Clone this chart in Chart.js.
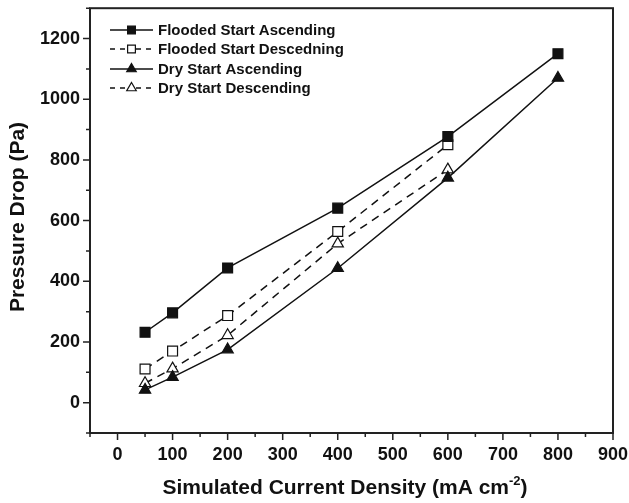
<!DOCTYPE html>
<html>
<head>
<meta charset="utf-8">
<script src="https://cdn.jsdelivr.net/npm/chart.js@4.4.1/dist/chart.umd.min.js"></script>
<style>
  html, body { margin: 0; padding: 0; background: #fff; }
  #wrap { width: 629px; height: 503px; position: relative; }
</style>
</head>
<body>
<div id="wrap"><canvas id="c" width="629" height="503"></canvas></div>
<script>
// ---- data ----
const xAscending = [50, 100, 200, 400, 600, 800];
const xDescending = [50, 100, 200, 400, 600];
const floodedAscending = [232, 296, 444, 641, 877, 1150];
const floodedDescending = [111, 170, 287, 564, 850];
const dryAscending = [42, 84, 175, 443, 741, 1070];
const dryDescending = [64, 112, 222, 524, 768];
const seriesNames = ['Flooded Start Ascending', 'Flooded Start Descedning', 'Dry Start Ascending', 'Dry Start Descending'];
const xTitle = 'Simulated Current Density (mA cm';
const xTitleSup = '-2';
const yTitle = 'Pressure Drop (Pa)';

const FONT = '"Liberation Sans", Arial, sans-serif';
const INK = '#111';

function pts(xs, ys) { return xs.map((x, i) => ({ x: x, y: ys[i] })); }

const styles = [
  { style: 'rect', fill: INK, dash: [] },
  { style: 'rect', fill: '#fff', dash: [8, 6] },
  { style: 'triangle', fill: INK, dash: [] },
  { style: 'triangle', fill: '#fff', dash: [8, 6] }
];
const dataSets = [pts(xAscending, floodedAscending), pts(xDescending, floodedDescending),
                  pts(xAscending, dryAscending), pts(xDescending, dryDescending)];

const datasets = dataSets.map((d, i) => ({
  label: seriesNames[i],
  data: d,
  showLine: true,
  borderColor: INK,
  borderWidth: 1.5,
  borderDash: styles[i].dash,
  pointStyle: styles[i].style,
  pointRadius: styles[i].style === 'rect' ? 7 : 6.5,
  pointBackgroundColor: styles[i].fill,
  pointBorderColor: INK,
  pointBorderWidth: 1.2,
  clip: false
}));

function drawMarker(ctx, style, fill, x, y, r) {
  ctx.save();
  ctx.beginPath();
  if (style === 'rect') {
    const s = r * Math.SQRT1_2;
    ctx.rect(x - s, y - s, 2 * s, 2 * s);
  } else {
    let rad = 0;
    ctx.moveTo(x + Math.sin(rad) * r, y - Math.cos(rad) * r);
    rad += 2 * Math.PI / 3;
    ctx.lineTo(x + Math.sin(rad) * r, y - Math.cos(rad) * r);
    rad += 2 * Math.PI / 3;
    ctx.lineTo(x + Math.sin(rad) * r, y - Math.cos(rad) * r);
    ctx.closePath();
  }
  ctx.fillStyle = fill;
  ctx.fill();
  ctx.setLineDash([]);
  ctx.lineWidth = 1.2;
  ctx.strokeStyle = INK;
  ctx.stroke();
  ctx.restore();
}

const decor = {
  id: 'decor',
  afterDraw(chart) {
    const ctx = chart.ctx;
    const a = chart.chartArea;
    const xs = chart.scales.x, ys = chart.scales.y;
    ctx.save();
    // frame
    ctx.strokeStyle = '#222';
    ctx.lineWidth = 2;
    ctx.setLineDash([]);
    ctx.strokeRect(a.left, a.top, a.right - a.left, a.bottom - a.top);
    // ticks
    ctx.lineWidth = 1.5;
    ctx.beginPath();
    xs.ticks.forEach(t => {
      const px = xs.getPixelForValue(t.value);
      const len = (t.value % 100 === 0) ? 7 : 4;
      ctx.moveTo(px, a.bottom);
      ctx.lineTo(px, a.bottom + len);
    });
    ys.ticks.forEach(t => {
      const py = ys.getPixelForValue(t.value);
      const len = (t.value % 200 === 0) ? 7 : 4;
      ctx.moveTo(a.left, py);
      ctx.lineTo(a.left - len, py);
    });
    ctx.stroke();

    // x title with superscript
    ctx.fillStyle = INK;
    ctx.textBaseline = 'alphabetic';
    ctx.textAlign = 'left';
    const mainFont = 'bold 21px ' + FONT;
    const supFont = 'bold 13px ' + FONT;
    ctx.font = mainFont;
    const w1 = ctx.measureText(xTitle).width;
    const w3 = ctx.measureText(')').width;
    ctx.font = supFont;
    const w2 = ctx.measureText(xTitleSup).width;
    const total = w1 + w2 + w3;
    let sx = 345 - total / 2;
    const base = 494;
    ctx.font = mainFont;
    ctx.fillText(xTitle, sx, base);
    ctx.font = supFont;
    ctx.fillText(xTitleSup, sx + w1, base - 9);
    ctx.font = mainFont;
    ctx.fillText(')', sx + w1 + w2, base);

    // y title
    ctx.save();
    ctx.translate(24, 217);
    ctx.rotate(-Math.PI / 2);
    ctx.textAlign = 'center';
    ctx.textBaseline = 'alphabetic';
    ctx.font = mainFont;
    ctx.fillText(yTitle, 0, 0);
    ctx.restore();

    // legend
    const rows = [30, 49, 69, 88];
    ctx.font = 'bold 15px ' + FONT;
    ctx.textBaseline = 'middle';
    ctx.textAlign = 'left';
    rows.forEach((ry, i) => {
      const st = styles[i];
      ctx.save();
      ctx.strokeStyle = INK;
      ctx.lineWidth = 1.5;
      if (st.dash.length) {
        ctx.setLineDash([5, 5]);
        ctx.beginPath();
        ctx.moveTo(110, ry); ctx.lineTo(127, ry);
        ctx.moveTo(136, ry); ctx.lineTo(153, ry);
        ctx.stroke();
      } else {
        ctx.beginPath();
        ctx.moveTo(110, ry); ctx.lineTo(153, ry);
        ctx.stroke();
      }
      ctx.restore();
      drawMarker(ctx, st.style, st.fill, 131.5, ry, 5.5);
      ctx.fillStyle = INK;
      ctx.fillText(seriesNames[i], 158, ry + 1);
    });
    ctx.restore();
  }
};

function zeroPad(s) {
  s.paddingTop = 0; s.paddingBottom = 0; s.paddingLeft = 0; s.paddingRight = 0;
}

new Chart(document.getElementById('c'), {
  type: 'scatter',
  data: { datasets: datasets },
  options: {
    responsive: false,
    animation: false,
    devicePixelRatio: 1,
    layout: { padding: { top: 7, right: 16, left: 0, bottom: 0 } },
    plugins: { legend: { display: false }, tooltip: { enabled: false } },
    scales: {
      x: {
        type: 'linear', min: -50, max: 900,
        border: { display: false },
        grid: { display: false, drawTicks: false },
        ticks: {
          stepSize: 50, autoSkip: false, maxRotation: 0, padding: 11,
          color: INK, font: { family: FONT, size: 18, weight: 'bold' },
          callback: v => (v % 100 === 0 ? String(v) : '')
        },
        afterFit: s => { s.height = 70; zeroPad(s); }
      },
      y: {
        type: 'linear', min: -100, max: 1300,
        border: { display: false },
        grid: { display: false, drawTicks: false },
        ticks: {
          stepSize: 100, autoSkip: false, padding: 10,
          color: INK, font: { family: FONT, size: 18, weight: 'bold' },
          callback: v => (v % 200 === 0 ? String(v) : '')
        },
        afterFit: s => { s.width = 90; zeroPad(s); }
      }
    }
  },
  plugins: [decor]
});
</script>
</body>
</html>
